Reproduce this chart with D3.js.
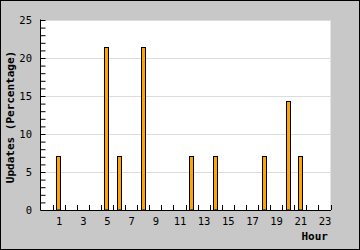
<html>
<head>
  <script src="https://d3js.org/d3.v7.min.js"></script>
  <style>
    body { margin: 0; }
    svg { display: block; }
  </style>
</head>
<body>
<script>
  // hour of day -> share of updates (%)
  var hours = d3.range(0, 24);
  var values = [0, 7.14, 0, 0, 0, 21.43, 7.14, 0, 21.43, 0, 0, 0, 7.14, 0, 7.14, 0, 0, 0, 7.14, 0, 14.29, 7.14, 0, 0];
  var hourLabels = [1, 3, 5, 7, 9, 11, 13, 15, 17, 19, 21, 23];
  var yTicks = [0, 5, 10, 15, 20, 25];

  var width = 360, height = 250;
  var plotLeft = 40.5, plotRight = 330.5, plotTop = 20, plotBottom = 210;
  var mono = "'DejaVu Sans Mono', monospace";

  var svg = d3.select('body').append('svg')
    .attr('width', width)
    .attr('height', height);

  svg.append('rect')
    .attr('x', 0.5).attr('y', 0.5)
    .attr('width', width - 1).attr('height', height - 1)
    .attr('fill', '#c8c8c8')
    .attr('stroke', '#000');

  svg.append('rect')
    .attr('x', plotLeft).attr('y', plotTop)
    .attr('width', plotRight - plotLeft).attr('height', plotBottom - plotTop)
    .attr('fill', '#fff');

  var x = d3.scaleBand().domain(hours).range([plotLeft, plotRight]);
  var y = d3.scaleLinear().domain([0, 25]).range([plotBottom, plotTop]);

  // grid
  svg.selectAll('.grid')
    .data(yTicks.filter(function(d) { return d > 0; }))
    .enter().append('line')
    .attr('x1', plotLeft).attr('x2', plotRight)
    .attr('y1', function(d) { return Math.round(y(d)) + 0.5; })
    .attr('y2', function(d) { return Math.round(y(d)) + 0.5; })
    .attr('stroke', '#dcdcdc');

  // bars
  var bw = 5;
  svg.selectAll('.bar')
    .data(hours.filter(function(h) { return values[h] > 0; }))
    .enter().append('rect')
    .attr('x', function(h) { return Math.round(x(h) + x.bandwidth() / 2 - bw / 2) + 0.5; })
    .attr('y', function(h) { return Math.round(y(values[h])) + 0.5; })
    .attr('width', bw - 1)
    .attr('height', function(h) { return Math.round(plotBottom - y(values[h])) - 0.5; })
    .attr('fill', '#ffa500')
    .attr('stroke', '#000');

  // y axis, ticks pointing inward
  var yAxis = d3.axisRight(y)
    .tickValues(d3.range(0, 26))
    .tickSize(5)
    .tickFormat('');
  svg.append('g')
    .attr('transform', 'translate(' + plotLeft + ',0)')
    .call(yAxis)
    .call(function(g) {
      g.select('.domain').attr('stroke', '#000').attr('d', 'M0,' + (plotTop - 0.5) + 'V' + plotBottom);
      g.selectAll('.tick line').attr('stroke', '#000');
    });

  svg.selectAll('.ylab')
    .data(yTicks)
    .enter().append('text')
    .attr('x', 32)
    .attr('y', function(d) { return y(d) + 4; })
    .attr('text-anchor', 'end')
    .style('font-family', mono)
    .style('font-size', '10.5px')
    .text(function(d) { return d; });

  // x axis, ticks at slot boundaries pointing up
  var bounds = d3.range(0, 25).map(function(i) { return i < 24 ? x(i) : plotRight; });
  svg.append('line')
    .attr('x1', plotLeft).attr('x2', plotRight + 0.5)
    .attr('y1', plotBottom + 0.5).attr('y2', plotBottom + 0.5)
    .attr('stroke', '#000');
  svg.selectAll('.xtick')
    .data(bounds.slice(1))
    .enter().append('line')
    .attr('x1', function(d) { return Math.round(d) + 0.5; })
    .attr('x2', function(d) { return Math.round(d) + 0.5; })
    .attr('y1', plotBottom - 5).attr('y2', plotBottom)
    .attr('stroke', '#000');

  svg.selectAll('.xlab')
    .data(hourLabels)
    .enter().append('text')
    .attr('x', function(d) { return x(d) + x.bandwidth() / 2 + 0.5; })
    .attr('y', plotBottom + 15)
    .attr('text-anchor', 'middle')
    .style('font-family', mono)
    .style('font-size', '10.5px')
    .text(function(d) { return d; });

  svg.append('text')
    .attr('x', 328)
    .attr('y', 239.5)
    .attr('text-anchor', 'end')
    .style('font-family', mono)
    .style('font-weight', 'bold')
    .style('font-size', '11px')
    .text('Hour');

  svg.append('text')
    .attr('transform', 'translate(13.5,' + ((plotTop + plotBottom) / 2 + 2) + ') rotate(-90)')
    .attr('text-anchor', 'middle')
    .style('font-family', mono)
    .style('font-weight', 'bold')
    .style('font-size', '11px')
    .text('Updates (Percentage)');
</script>
</body>
</html>
